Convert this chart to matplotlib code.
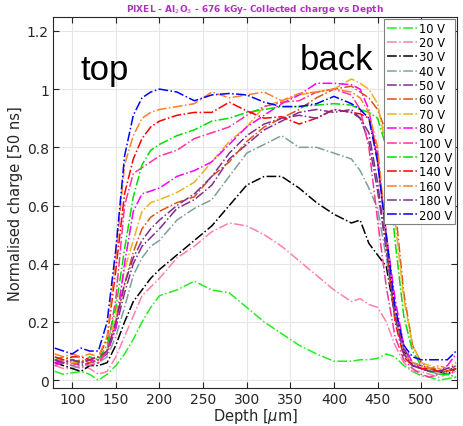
import numpy as np
import matplotlib
matplotlib.use("Agg")
import matplotlib.pyplot as plt

plt.rcParams['font.family'] = ['DejaVu Sans']

# depth grid [um]
depth = [80, 90, 100, 110, 120, 130, 140, 150, 160, 170, 180, 190, 200, 220, 240, 260, 280, 300,
         320, 340, 360, 380, 400, 420, 430, 440, 450, 460, 470, 480, 490, 500, 510, 520, 530, 540]

q10 = [.03, .02, .025, .03, .02, .0, .02, .05, .09, .14, .2, .25, .29, .31, .34, .31, .3, .25,
       .2, .16, .12, .09, .065, .065, .07, .07, .075, .09, .08, .05, .03, .015, .01, .0, .005, .01]
q20 = [.05, .04, .04, .05, .04, .02, .03, .08, .15, .22, .29, .32, .35, .42, .46, .51, .54, .53,
       .5, .46, .41, .36, .31, .27, .28, .26, .25, .2, .12, .06, .03, .03, .02, .01, .02, .03]
q30 = [.06, .05, .04, .03, .05, .05, .06, .12, .2, .27, .31, .35, .38, .43, .48, .53, .6, .67,
       .7, .7, .66, .61, .57, .54, .55, .47, .43, .39, .22, .1, .05, .04, .03, .03, .02, .04]
q40 = [.06, .06, .05, .04, .06, .06, .08, .15, .25, .36, .42, .46, .48, .55, .59, .62, .7, .78,
       .81, .84, .8, .8, .78, .76, .72, .66, .59, .42, .22, .1, .05, .04, .03, .02, .03, .04]
q50 = [.06, .07, .06, .05, .06, .07, .09, .18, .3, .4, .46, .49, .52, .59, .62, .67, .76, .81,
       .86, .89, .92, .93, .92, .93, .9, .82, .65, .45, .25, .11, .06, .05, .04, .03, .03, .05]
q60 = [.07, .06, .06, .07, .06, .07, .1, .2, .33, .44, .52, .56, .58, .61, .63, .7, .75, .82,
       .87, .9, .93, .97, 1.0, 1.01, .99, .97, .93, .85, .6, .3, .12, .06, .04, .04, .03, .05]
q70 = [.07, .07, .06, .06, .07, .06, .1, .22, .38, .48, .58, .61, .62, .645, .68, .75, .82, .87,
       .94, .96, .98, .99, 1.0, 1.035, 1.02, 1.0, .95, .8, .55, .28, .12, .06, .05, .04, .03, .04]
q80 = [.06, .06, .07, .06, .07, .06, .1, .18, .4, .58, .64, .65, .66, .7, .72, .75, .81, .87,
       .91, .95, .98, 1.02, 1.02, 1.015, 1.0, .93, .75, .5, .28, .12, .06, .04, .03, .03, .05, .09]
q100 = [.05, .06, .05, .06, .05, .06, .1, .28, .6, .71, .73, .75, .77, .79, .83, .85, .87, .91,
        .94, .955, .96, .99, 1.0, .98, .93, .8, .55, .32, .15, .07, .04, .02, .01, .02, .02, .03]
q120 = [.07, .08, .07, .06, .08, .07, .12, .25, .45, .63, .74, .79, .81, .84, .86, .89, .9, .92,
        .93, .94, .94, .945, .95, .945, .93, .92, .9, .8, .48, .22, .1, .05, .03, .02, .02, .01]
q140 = [.08, .07, .08, .08, .07, .08, .14, .38, .64, .76, .83, .87, .89, .91, .92, .92, .955, .925,
        .9, .905, .88, .9, .93, .92, .915, .9, .78, .48, .2, .08, .05, .04, .04, .03, .03, .04]
q160 = [.09, .08, .09, .08, .09, .08, .15, .42, .74, .84, .9, .92, .93, .94, .95, .99, .97, .98,
        .99, .96, .985, .99, 1.0, .99, .97, .92, .8, .5, .22, .09, .06, .05, .04, .05, .04, .06]
q180 = [.07, .06, .07, .06, .07, .08, .1, .2, .33, .42, .48, .52, .55, .6, .64, .7, .78, .84,
        .88, .9, .91, .9, .93, .92, .9, .85, .68, .45, .22, .09, .05, .04, .03, .03, .04, .05]
q200 = [.11, .1, .09, .11, .1, .1, .2, .45, .77, .91, .97, .99, 1.0, .99, .96, .98, .985, .98,
        .955, .94, .94, .95, .975, .95, .93, .9, .75, .5, .25, .12, .08, .07, .07, .07, .07, .1]

labels = ['10 V', '20 V', '30 V', '40 V', '50 V', '60 V', '70 V', '80 V',
          '100 V', '120 V', '140 V', '160 V', '180 V', '200 V']
series = [q10, q20, q30, q40, q50, q60, q70, q80, q100, q120, q140, q160, q180, q200]
colors = ['#22ee22', '#ff7fb0', '#000000', '#7f9f9f', '#7e2f8e', '#d95319', '#edb120',
          '#ff00ff', '#ff3399', '#00e000', '#ff0000', '#ff7f27', '#7e2f8e', '#0000ff']

fig = plt.figure(figsize=(4.63, 4.27), dpi=100)
ax = fig.add_axes([0.1145, 0.089, 0.8725, 0.869])

for q, lab, c in zip(series, labels, colors):
    ax.plot(depth, q, linestyle='-.', color=c, lw=1.1, label=lab)

ax.set_xlim(78, 541)
ax.set_ylim(-0.027, 1.248)
ax.set_xticks(np.arange(100, 501, 50))
ax.set_yticks([0, 0.2, 0.4, 0.6, 0.8, 1.0, 1.2])
ax.set_yticklabels(['0', '0.2', '0.4', '0.6', '0.8', '1', '1.2'])
ax.grid(True, color='#e6e6e6', lw=0.8)
ax.set_axisbelow(True)
ax.tick_params(direction='in', top=True, right=True, labelsize=10, colors='#262626',
               length=4, pad=3)
for s in ax.spines.values():
    s.set_color('#262626')
    s.set_linewidth(0.8)

ax.set_xlabel(r'Depth [$\mu$m]', fontsize=10.5, color='#262626', labelpad=0)
ax.set_ylabel('Normalised charge [50 ns]', fontsize=10.5, color='#262626', labelpad=3)
ax.set_title(r'PIXEL - Al$_2$O$_3$ - 676 kGy- Collected charge vs Depth',
             fontsize=6.5, fontweight='bold', color='#b030c0', pad=4)

ax.text(109, 1.035, 'top', fontsize=25, family='Liberation Sans', va='baseline')
ax.text(361, 1.068, 'back', fontsize=25, family='Liberation Sans', va='baseline')

leg = ax.legend(loc='upper right', fontsize=8.3, handlelength=2.6, labelspacing=0.12,
                borderpad=0.25, handletextpad=0.2, borderaxespad=0.15, fancybox=False,
                framealpha=1, edgecolor='#808080')
leg.get_frame().set_linewidth(0.8)

fig.savefig('out.png', dpi=100)
